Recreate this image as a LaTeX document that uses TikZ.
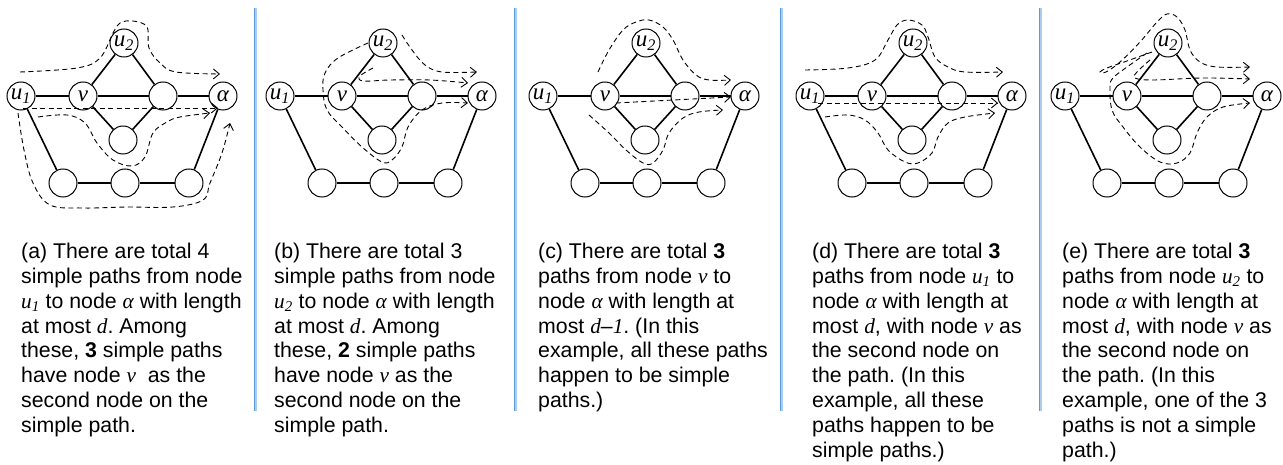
\documentclass[tikz,border=0pt]{standalone}
\usepackage{fontspec}
\setmainfont{Liberation Sans}
\newfontfamily\serifit{Liberation Serif}
\usetikzlibrary{arrows.meta,positioning}
\newcommand\mv[1]{{\serifit\itshape #1}}
\definecolor{sepdark}{RGB}{91,155,213}
\definecolor{seplight}{RGB}{170,205,238}
\tikzset{
  vtx/.style = {circle, draw=black, line width=1pt, minimum size=28pt,
    inner sep=0pt, font=\fontsize{23}{23}\selectfont\serifit\itshape},% graph node
  link/.style = {line width=1.6pt},% graph edge
  trail/.style = {dash pattern=on 5pt off 3.5pt, line width=0.9pt,
    -{Straight Barb[length=6pt,width=10pt]}},% path drawn as dashed arrow
  caption/.style = {anchor=north west, inner sep=0pt, align=left,
    font=\fontsize{21.3}{24.8}\selectfont\frenchspacing},
  sepline/.style = {line width=1pt, sepdark}
}

\begin{document}
\begin{tikzpicture}[x=1pt,y=-1pt]
        \useasboundingbox (0,0) rectangle (1283,465);

        % the same graph in every panel
        \foreach \p/\x in {a/21,b/280,c/543,d/810,e/1065}{
          \begin{scope}[xshift=\x]
            \node [vtx] (u1\p) at (0,96) {u\textsubscript{1}};
            \node [vtx] (v\p) at (62,96) {v};
            \node [vtx] (m\p) at (142,96) {};
            \node [vtx] (al\p) at (202,96) {α};
            \node [vtx] (u2\p) at (103,43) {u\textsubscript{2}};
            \node [vtx] (l\p) at (102,140) {};
            \node [vtx] (b1\p) at (42,183) {};
            \node [vtx] (b2\p) at (104,183) {};
            \node [vtx] (b3\p) at (168,183) {};
          \end{scope}
          \draw [link] (u1\p) -- (v\p);
          \draw [link] (v\p) -- (m\p);
          \draw [link] (m\p) -- (al\p);
          \draw [link] (v\p) -- (u2\p);
          \draw [link] (u2\p) -- (m\p);
          \draw [link] (v\p) -- (l\p);
          \draw [link] (l\p) -- (m\p);
          \draw [link] (u1\p) -- (b1\p);
          \draw [link] (b1\p) -- (b2\p);
          \draw [link] (b2\p) -- (b3\p);
          \draw [link] (b3\p) -- (al\p);
        }

        % (a)
        \begin{scope}[xshift=21]
          \draw [trail] plot [smooth, tension=0.6] coordinates {(-1,72) (56,68) (79,58) (92,33) (99,23) (112,21) (126,27) (128,48) (139,63) (155,72) (199,74)};
          \draw [trail] (2,108) -- (197,108);
          \draw [trail] plot [smooth, tension=0.6] coordinates {(17,117) (46,115) (64,123) (76,143) (92,160) (111,166) (124,157) (132,133) (146,122) (159,117) (189,113)};
          \draw [trail] plot [smooth, tension=0.6] coordinates {(-3,113) (3,150) (12,183) (29,205) (62,208) (106,207) (152,207) (182,200) (189,183) (201,153) (209,123)};
        \end{scope}

        % (b)
        \begin{scope}[xshift=280]
          \draw [trail] plot [smooth, tension=0.6] coordinates {(122,35) (132,50) (145,65) (162,72) (197,72)};
          \draw [trail] plot [smooth, tension=0.6] coordinates {(93,68) (80,76) (83,81) (110,80) (150,80) (188,83)};
          \draw [trail] plot [smooth, tension=0.6] coordinates {(88,43) (58,58) (45,73) (43,90) (47,110) (62,127) (82,147) (102,162) (112,160) (122,147) (128,127) (142,110) (162,103) (188,103)};
        \end{scope}

        % (c)
        \begin{scope}[xshift=543]
          \draw [trail] plot [smooth, tension=0.6] coordinates {(55,72) (66,50) (80,30) (93,22) (106,20) (120,27) (130,40) (140,60) (153,75) (166,80) (188,80)};
          \draw [trail] (73,103) -- (188,97);
          \draw [trail] plot [smooth, tension=0.6] coordinates {(46,115) (66,133) (83,150) (100,163) (110,163) (120,150) (126,133) (140,118) (156,112) (180,110)};
        \end{scope}

        % (d)
        \begin{scope}[xshift=810]
          \draw [trail] plot [smooth, tension=0.6] coordinates {(-5,70) (38,68) (65,60) (78,40) (87,25) (98,20) (112,25) (118,37) (125,57) (138,67) (155,72) (193,72)};
          \draw [trail] (8,103) -- (188,103);
          \draw [trail] plot [smooth, tension=0.6] coordinates {(15,117) (38,115) (55,120) (68,133) (78,150) (95,162) (108,163) (122,153) (128,137) (138,123) (155,117) (185,113)};
        \end{scope}

        % (e)
        \begin{scope}[xshift=1065]
          \draw [trail] plot [smooth, tension=0.6] coordinates {(87,52) (62,61) (42,68) (35,72) (41,72) (55,62) (75,42) (92,22) (102,14) (112,17) (120,30) (125,50) (135,62) (152,67) (185,67)};
          \draw [trail] plot [smooth, tension=0.6] coordinates {(85,60) (72,72) (70,78) (88,80) (138,78) (185,79)};
          \draw [trail] plot [smooth, tension=0.6] coordinates {(82,53) (62,67) (48,78) (45,87) (47,110) (58,127) (75,147) (95,162) (112,163) (125,153) (132,133) (142,117) (158,107) (185,103)};
        \end{scope}

        % separators
        \foreach \s in {254,514,780,1039}{
          \draw [sepline] (\s,8) -- (\s,411);
          \draw [line width=1.3pt, seplight] (\s+2,8) -- (\s+2,411);
        }

        % captions
        \node [caption] (capa) at (21,243) {(a) There are total 4\\simple paths from node\\\mv{u}\textsubscript{\mv{1}} to node \mv{α} with length\\at most \mv{d}. Among\\these, \textbf{3} simple paths\\have node \mv{v}\ \ as the\\second node on the\\simple path.};
        \node [caption] (capb) at (274,243) {(b) There are total 3\\simple paths from node\\\mv{u}\textsubscript{\mv{2}} to node \mv{α} with length\\at most \mv{d}. Among\\these, \textbf{2} simple paths\\have node \mv{v} as the\\second node on the\\simple path.};
        \node [caption] (capc) at (538,243) {(c) There are total \textbf{3}\\paths from node \mv{v} to\\node \mv{α} with length at\\most \mv{d}--\mv{1}. (In this\\example, all these paths\\happen to be simple\\paths.)};
        \node [caption] (capd) at (812,243) {(d) There are total \textbf{3}\\paths from node \mv{u}\textsubscript{\mv{1}} to\\node \mv{α} with length at\\most \mv{d}, with node \mv{v} as\\the second node on\\the path. (In this\\example, all these\\paths happen to be\\simple paths.)};
        \node [caption] (cape) at (1062,243) {(e) There are total \textbf{3}\\paths from node \mv{u}\textsubscript{\mv{2}} to\\node \mv{α} with length at\\most \mv{d}, with node \mv{v} as\\the second node on\\the path. (In this\\example, one of the 3\\paths is not a simple\\path.)};

\end{tikzpicture}
\end{document}
